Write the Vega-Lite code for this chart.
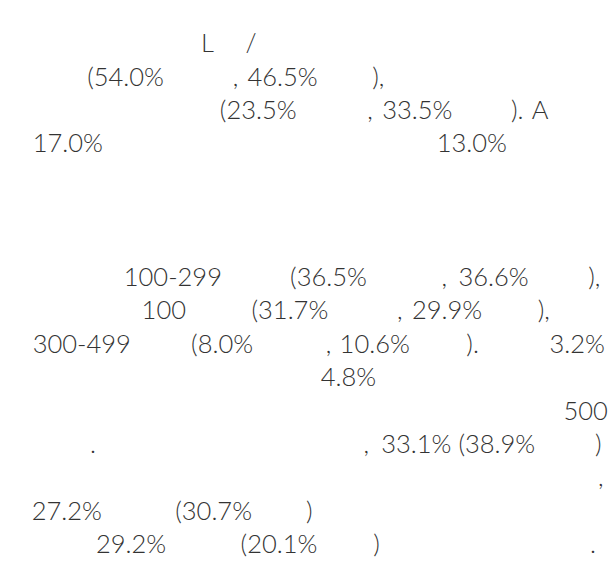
{
  "$schema": "https://vega.github.io/schema/vega-lite/v6.json",
  "autosize": {"type": "fit", "contains": "padding"},
  "width": 608,
  "height": 569,
  "padding": 0,
  "background": "white",
  "view": {"stroke": null},
  "data": {
    "values": [
      {"line": 1, "x": 203, "text": "L"},
      {"line": 1, "x": 248, "text": "/"},
      {"line": 2, "x": 88, "text": "(54.0%"},
      {"line": 2, "x": 235, "text": ","},
      {"line": 2, "x": 250, "text": "46.5%"},
      {"line": 2, "x": 376, "text": "),"},
      {"line": 3, "x": 222, "text": "(23.5%"},
      {"line": 3, "x": 371, "text": ","},
      {"line": 3, "x": 386, "text": "33.5%"},
      {"line": 3, "x": 516, "text": ")."},
      {"line": 3, "x": 537, "text": "A"},
      {"line": 4, "x": 33, "text": "17.0%"},
      {"line": 4, "x": 441, "text": "13.0%"},
      {"line": 8, "x": 125, "text": "100-299"},
      {"line": 8, "x": 293, "text": "(36.5%"},
      {"line": 8, "x": 446, "text": ","},
      {"line": 8, "x": 463, "text": "36.6%"},
      {"line": 8, "x": 594, "text": "),"},
      {"line": 9, "x": 143, "text": "100"},
      {"line": 9, "x": 254, "text": "(31.7%"},
      {"line": 9, "x": 401, "text": ","},
      {"line": 9, "x": 416, "text": "29.9%"},
      {"line": 9, "x": 543, "text": "),"},
      {"line": 10, "x": 33, "text": "300-499"},
      {"line": 10, "x": 193, "text": "(8.0%"},
      {"line": 10, "x": 329, "text": ","},
      {"line": 10, "x": 343, "text": "10.6%"},
      {"line": 10, "x": 471, "text": ")."},
      {"line": 10, "x": 555, "text": "3.2%"},
      {"line": 11, "x": 324, "text": "4.8%"},
      {"line": 12, "x": 569, "text": "500"},
      {"line": 13, "x": 91, "text": "."},
      {"line": 13, "x": 367, "text": ","},
      {"line": 13, "x": 385, "text": "33.1%"},
      {"line": 13, "x": 463, "text": "(38.9%"},
      {"line": 13, "x": 601, "text": ")"},
      {"line": 14, "x": 604, "text": ","},
      {"line": 15, "x": 32, "text": "27.2%"},
      {"line": 15, "x": 177, "text": "(30.7%"},
      {"line": 15, "x": 309, "text": ")"},
      {"line": 16, "x": 97, "text": "29.2%"},
      {"line": 16, "x": 243, "text": "(20.1%"},
      {"line": 16, "x": 377, "text": ")"},
      {"line": 16, "x": 596, "text": "."}
    ]
  },
  "mark": {
    "type": "text",
    "align": "left",
    "baseline": "alphabetic",
    "font": "Lato",
    "fontWeight": 300,
    "fontSize": 25.5,
    "color": "#333333"
  },
  "encoding": {
    "x": {"field": "x", "type": "quantitative", "axis": null, "scale": {"domain": [0, 608], "nice": false, "zero": false}},
    "y": {"field": "line", "type": "quantitative", "axis": null, "scale": {"domain": [-0.56, 16.476], "nice": false, "zero": false, "reverse": true}},
    "text": {"field": "text", "type": "nominal"}
  }
}
